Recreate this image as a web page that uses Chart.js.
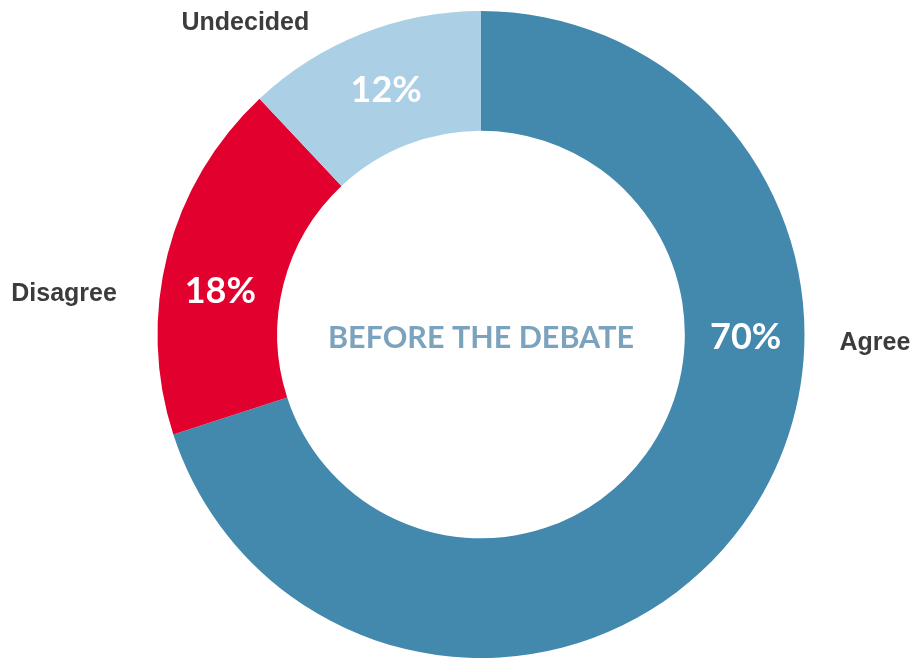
<!DOCTYPE html>
<html>
<head>
<meta charset="utf-8">
<script src="https://cdn.jsdelivr.net/npm/chart.js@4"></script>
<style>
  html, body { margin: 0; padding: 0; background: #fff; }
  #wrap { position: relative; width: 915px; height: 658px; }
</style>
</head>
<body>
<div id="wrap"><canvas id="debateChart"></canvas></div>
<script>
const categories = ['Agree', 'Disagree', 'Undecided'];
const shares = [70, 18, 12];
const sliceColors = ['#4389ad', '#e2002e', '#abd0e6'];
const centerTitle = 'BEFORE THE DEBATE';

// label placement around the ring: angle in degrees from 12 o'clock, clockwise
const labelPlacement = [
    { inner: 90,  outer: 91.2,  gap: 35, align: 'left' },
    { inner: 280, outer: 276.5, gap: 43, align: 'right' },
    { inner: 339, outer: 323,   gap: 68, align: 'center' }
];

const ringLabels = {
    id: 'ringLabels',
    afterDatasetsDraw(chart) {
        const ctx = chart.ctx;
        const arc = chart.getDatasetMeta(0).data[0];
        const cx = arc.x, cy = arc.y;
        const rOut = arc.outerRadius, rIn = arc.innerRadius;
        const rMid = (rOut + rIn) / 2 + 1;

        ctx.save();
        ctx.textBaseline = 'middle';

        shares.forEach((v, i) => {
            const p = labelPlacement[i];
            let a = p.inner * Math.PI / 180;
            ctx.fillStyle = '#ffffff';
            ctx.font = 'bold 36px Lato';
            ctx.textAlign = 'center';
            ctx.fillText(v + '%', cx + rMid * Math.sin(a), cy - rMid * Math.cos(a) + 3);

            a = p.outer * Math.PI / 180;
            const r = rOut + p.gap;
            ctx.fillStyle = '#3c3c3c';
            ctx.font = 'bold 25px "Liberation Sans", Arial';
            ctx.textAlign = p.align;
            ctx.fillText(categories[i], cx + r * Math.sin(a), cy - r * Math.cos(a) + 1);
        });

        ctx.fillStyle = '#7ba3bd';
        ctx.font = 'bold 30.5px Lato';
        ctx.textAlign = 'center';
        ctx.fillText(centerTitle, cx, cy + 4);
        ctx.restore();
    }
};

new Chart(document.getElementById('debateChart'), {
    type: 'doughnut',
    data: {
        labels: categories,
        datasets: [{
            data: shares,
            backgroundColor: sliceColors,
            borderWidth: 0,
            hoverOffset: 0
        }]
    },
    options: {
        responsive: true,
        maintainAspectRatio: false,
        animation: false,
        cutout: '63%',
        layout: {
            padding: { left: 157, right: 110, top: 11, bottom: 0 }
        },
        plugins: {
            legend: { display: false },
            tooltip: { enabled: false }
        }
    },
    plugins: [ringLabels]
});
</script>
</body>
</html>
